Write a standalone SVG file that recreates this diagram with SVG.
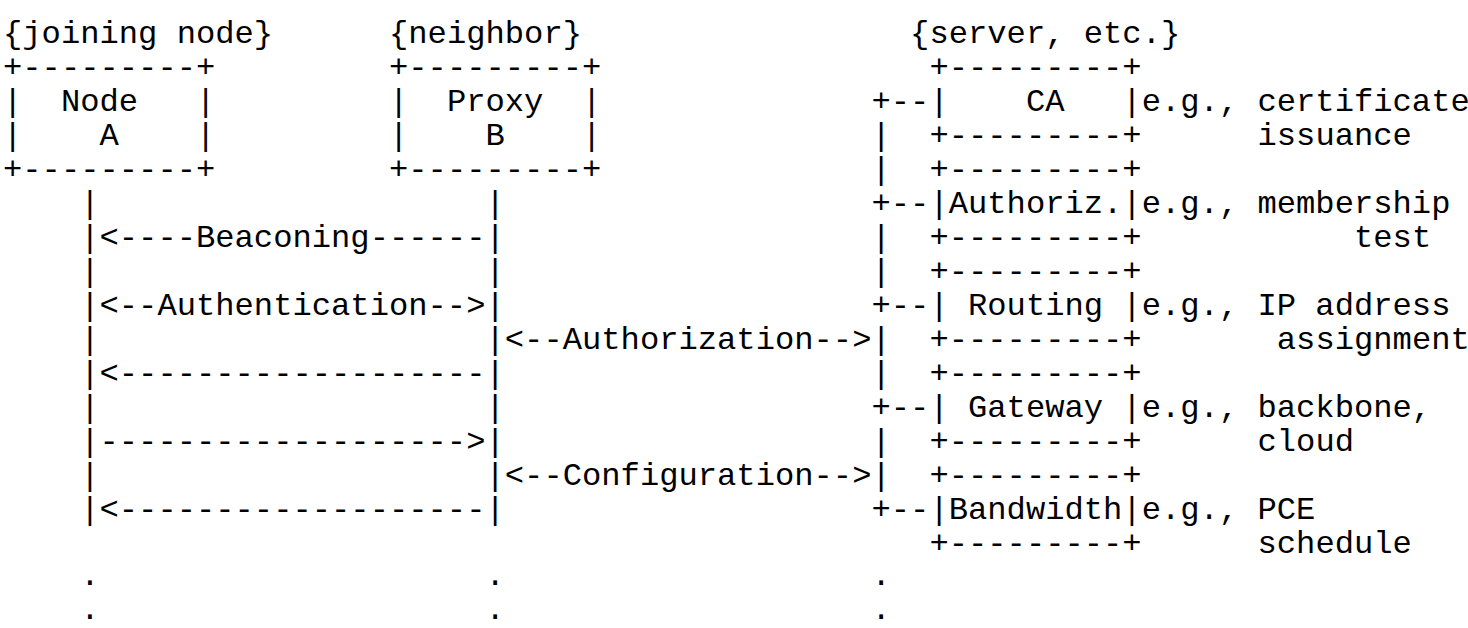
<svg xmlns="http://www.w3.org/2000/svg" width="1468" height="628" viewBox="0 0 1468 628" xml:space="preserve">
<style>
text { font-family: "Liberation Mono", "Courier New", monospace; font-size: 32.17px; fill: #000000; white-space: pre; }
</style>
<rect x="0" y="0" width="1468" height="628" fill="#ffffff"/>
<g id="headers">
<text x="3" y="43">{joining node}</text>
<text x="389" y="43">{neighbor}</text>
<text x="910.1" y="43">{server, etc.}</text>
</g>
<g id="node-a">
<text x="3" y="77">+---------+</text>
<text x="3" y="111">|  Node   |</text>
<text x="3" y="145">|    A    |</text>
<text x="3" y="179">+---------+</text>
</g>
<g id="proxy-b">
<text x="389" y="77">+---------+</text>
<text x="389" y="111">|  Proxy  |</text>
<text x="389" y="145">|    B    |</text>
<text x="389" y="179">+---------+</text>
</g>
<g id="server-ca">
<text x="929.4" y="77">+---------+</text>
<text x="929.4" y="111">|    CA   |</text>
<text x="929.4" y="145">+---------+</text>
<text x="1141.7" y="111">e.g., certificate</text>
<text x="1257.5" y="145">issuance</text>
</g>
<g id="server-authoriz">
<text x="929.4" y="179">+---------+</text>
<text x="929.4" y="213">|Authoriz.|</text>
<text x="929.4" y="247">+---------+</text>
<text x="1141.7" y="213">e.g., membership</text>
<text x="1354" y="247">test</text>
</g>
<g id="server-routing">
<text x="929.4" y="281">+---------+</text>
<text x="929.4" y="315">| Routing |</text>
<text x="929.4" y="349">+---------+</text>
<text x="1141.7" y="315">e.g., IP address</text>
<text x="1276.8" y="349">assignment</text>
</g>
<g id="server-gateway">
<text x="929.4" y="383">+---------+</text>
<text x="929.4" y="417">| Gateway |</text>
<text x="929.4" y="451">+---------+</text>
<text x="1141.7" y="417">e.g., backbone,</text>
<text x="1257.5" y="451">cloud</text>
</g>
<g id="server-bandwidth">
<text x="929.4" y="485">+---------+</text>
<text x="929.4" y="519">|Bandwidth|</text>
<text x="929.4" y="553">+---------+</text>
<text x="1141.7" y="519">e.g., PCE</text>
<text x="1257.5" y="553">schedule</text>
</g>
<g id="connectors">
<text x="871.5" y="111">+--</text>
<text x="871.5" y="145">|</text>
<text x="871.5" y="179">|</text>
<text x="80.2" y="213">|</text>
<text x="485.5" y="213">|</text>
<text x="871.5" y="213">+--</text>
<text x="80.2" y="247">|&lt;----Beaconing------|</text>
<text x="871.5" y="247">|</text>
<text x="80.2" y="281">|</text>
<text x="485.5" y="281">|</text>
<text x="871.5" y="281">|</text>
<text x="80.2" y="315">|&lt;--Authentication--&gt;|</text>
<text x="871.5" y="315">+--</text>
<text x="80.2" y="349">|</text>
<text x="485.5" y="349">|&lt;--Authorization--&gt;|</text>
<text x="80.2" y="383">|&lt;-------------------|</text>
<text x="871.5" y="383">|</text>
<text x="80.2" y="417">|</text>
<text x="485.5" y="417">|</text>
<text x="871.5" y="417">+--</text>
<text x="80.2" y="451">|-------------------&gt;|</text>
<text x="871.5" y="451">|</text>
<text x="80.2" y="485">|</text>
<text x="485.5" y="485">|&lt;--Configuration--&gt;|</text>
<text x="80.2" y="519">|&lt;-------------------|</text>
<text x="871.5" y="519">+--</text>
<text x="80.2" y="585">.</text>
<text x="485.5" y="585">.</text>
<text x="871.5" y="585">.</text>
<text x="80.2" y="619">.</text>
<text x="485.5" y="619">.</text>
<text x="871.5" y="619">.</text>
</g>
</svg>
